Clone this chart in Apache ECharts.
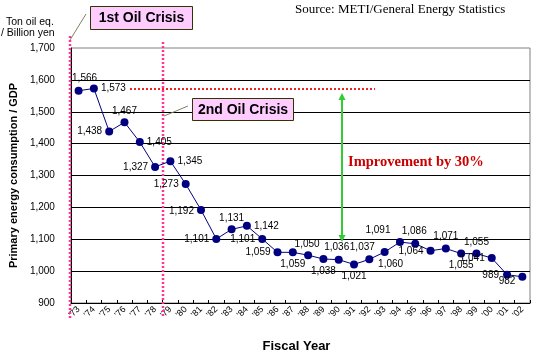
<!DOCTYPE html>
<html>
<head>
<meta charset="utf-8">
<script src="https://cdn.jsdelivr.net/npm/echarts@6.0.0/dist/echarts.min.js"></script>
<style>
html,body{margin:0;padding:0;background:#fff;}
#c{width:535px;height:358px;}
</style>
</head>
<body>
<div id="c"></div>
<script>
// ---- data ----
const years = ["'73","'74","'75","'76","'77","'78","'79","'80","'81","'82","'83","'84","'85","'86","'87","'88","'89","'90","'91","'92","'93","'94","'95","'96","'97","'98","'99","'00","'01","'02"];
const intensity = [1566,1573,1438,1467,1405,1327,1345,1273,1192,1101,1131,1142,1101,1059,1059,1050,1038,1036,1021,1037,1060,1091,1086,1064,1071,1055,1055,1041,989,982];
const yTicks = [900,1000,1100,1200,1300,1400,1500,1600,1700];
const yAxisTitle = 'Primary energy consumption / GDP';
const xAxisTitle = 'Fiscal Year';
const unitText = ['Ton oil eq.', '/ Billion yen'];
const sourceText = 'Source: METI/General Energy Statistics';
const crisis1 = '1st Oil Crisis';
const crisis2 = '2nd Oil Crisis';
const improvementText = 'Improvement by 30%';

// ---- label placement (style only) ----
const labelPos = [
  ['top',[6,0]],['right',[0,0]],['left',[0,0]],['top',[0,1]],['right',[0,0]],['left',[0,0]],['right',[0,0]],['left',[0,0]],['left',[0,1]],['left',[0,0]],
  ['top',[0,1]],['right',[0,0]],['left',[0,0]],['left',[0,0]],['bottom',[0,0]],['top',[-1,1]],['bottom',[0,0]],['top',[-2,0]],['bottom',[0,0]],['top',[-7,0]],
  ['bottom',[6,0]],['top',[-22,0]],['top',[-1,0]],['left',[0,1]],['top',[0,0]],['bottom',[0,0]],['top',[0,1]],['left',[0,0]],['left',[-1,1]],['left',[0,4]]
];

const fmt = v => v.toLocaleString('en-US');
const chart = echarts.init(document.getElementById('c'), null, {renderer:'canvas'});

const seriesData = intensity.map((v,i)=>({
  value: v,
  label: {position: labelPos[i][0], offset: labelPos[i][1], distance: 3}
}));

const pink = '#ff3399';
const option = {
  animation: false,
  textStyle: {fontFamily: 'Arial, Liberation Sans, sans-serif'},
  grid: {left: 66, right: 5, top: 48, bottom: 52, show: true, borderColor: '#808080', borderWidth: 1, containLabel: false},
  xAxis: {
    type: 'category', data: years, boundaryGap: true,
    name: xAxisTitle, nameLocation: 'middle', nameGap: 37,
    nameTextStyle: {fontWeight: 'bold', fontSize: 13, color: '#000', padding:[0,0,0,-8]},
    axisLine: {lineStyle: {color: '#000', width: 1}},
    axisTick: {show: true, inside: true, length: 3, alignWithLabel: false, lineStyle: {color: '#000'}},
    axisLabel: {rotate: 45, fontSize: 9, color: '#000', margin: 5, interval: 0},
    splitLine: {show: false}
  },
  yAxis: {
    type: 'value', min: yTicks[0], max: yTicks[yTicks.length-1], interval: 100,
    name: yAxisTitle, nameLocation: 'middle', nameGap: 50, nameRotate: 90,
    nameTextStyle: {fontWeight: 'bold', fontSize: 11, color: '#000'},
    axisLine: {show: true, lineStyle: {color: '#000', width: 1}},
    axisTick: {show: false},
    axisLabel: {fontSize: 10, color: '#000', margin: 16, formatter: v => fmt(v)},
    splitLine: {show: true, showMinLine: false, showMaxLine: false, lineStyle: {color: '#000', width: 1}}
  },
  series: [{
    type: 'line', data: seriesData,
    symbol: 'circle', symbolSize: 8,
    itemStyle: {color: '#000080'},
    lineStyle: {color: '#000080', width: 1},
    label: {show: true, fontSize: 10, color: '#000', formatter: p => fmt(p.value)},
    z: 5
  }],
  graphic: [
    {type:'text', left: 295, top: 3, style:{text: sourceText, font: '13px "Liberation Serif", "DejaVu Serif", serif', fill:'#000'}},
    {type:'text', left: 6, top: 17, style:{text: unitText[0], font: '10.5px Arial, "Liberation Sans", sans-serif', fill:'#000'}},
    {type:'text', left: 1, top: 28, style:{text: unitText[1], font: '10.5px Arial, "Liberation Sans", sans-serif', fill:'#000'}},
    // vertical dotted lines
    {type:'line', shape:{x1:70,y1:36,x2:70,y2:318}, style:{stroke:pink, lineWidth:2.5, lineDash:[2,2]}, z:3},
    {type:'line', shape:{x1:163,y1:42,x2:163,y2:318}, style:{stroke:pink, lineWidth:2.5, lineDash:[2,2]}, z:3},
    // horizontal dotted line
    {type:'line', shape:{x1:130,y1:89,x2:375,y2:89}, style:{stroke:'#ee2222', lineWidth:2, lineDash:[2,2]}, z:3},
    // green arrow
    {type:'line', shape:{x1:342,y1:98,x2:342,y2:238}, style:{stroke:'#33cc33', lineWidth:2}, z:3},
    {type:'polygon', shape:{points:[[342,93],[338.5,100],[345.5,100]]}, style:{fill:'#33cc33'}, z:3},
    {type:'polygon', shape:{points:[[342,242],[338.5,235],[345.5,235]]}, style:{fill:'#33cc33'}, z:3},
    {type:'text', left: 348, top: 155, style:{text: improvementText, font: 'bold 14.5px "Liberation Serif", "DejaVu Serif", serif', fill:'#cc0000'}},
    // leader lines
    {type:'line', shape:{x1:86,y1:14,x2:70,y2:40}, style:{stroke:'#808060', lineWidth:1}, z:4},
    {type:'line', shape:{x1:188,y1:106,x2:164,y2:116}, style:{stroke:'#808060', lineWidth:1}, z:4},
    // boxes
    {type:'rect', shape:{x:90.5,y:6.5,width:102,height:23}, style:{fill:'#ffccff', stroke:'#333300', lineWidth:1}, z:6},
    {type:'text', x:141.5, y:18, style:{text: crisis1, font:'bold 14px Arial, "Liberation Sans", sans-serif', fill:'#000', align:'center', verticalAlign:'middle'}, z:7},
    {type:'rect', shape:{x:192.5,y:98.5,width:101,height:22}, style:{fill:'#ffccff', stroke:'#333300', lineWidth:1}, z:6},
    {type:'text', x:243, y:110, style:{text: crisis2, font:'bold 14px Arial, "Liberation Sans", sans-serif', fill:'#000', align:'center', verticalAlign:'middle'}, z:7}
  ]
};
chart.setOption(option);
</script>
</body>
</html>
